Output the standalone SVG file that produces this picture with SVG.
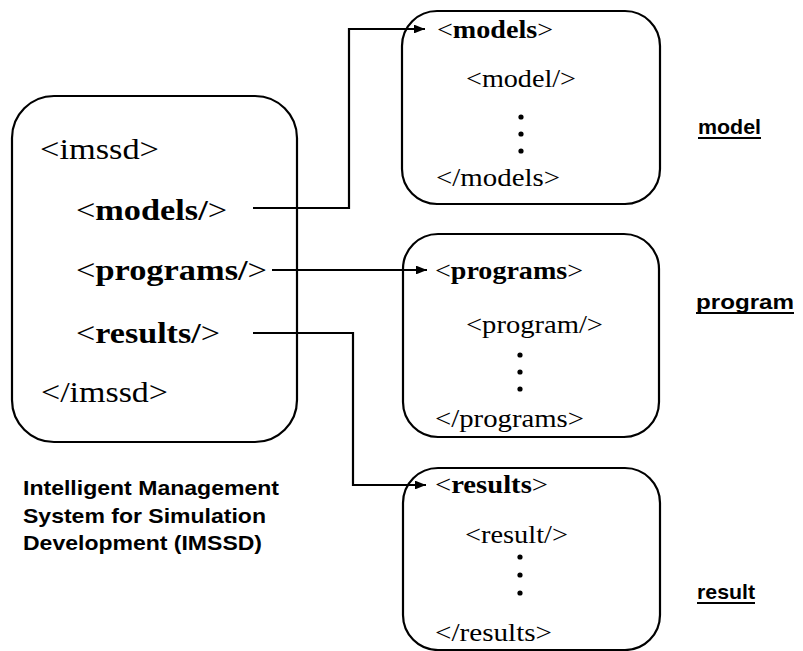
<svg xmlns="http://www.w3.org/2000/svg" width="803" height="651" viewBox="0 0 803 651">
  <style>
    .box { fill: none; stroke: #000; stroke-width: 2.2; }
    .tag { font-family: "Liberation Serif", "Times New Roman", serif; fill: #000; }
    .big { font-size: 29px; }
    .small { font-size: 25px; }
    .b { font-weight: bold; }
    .label { font-family: "Liberation Sans", Arial, sans-serif; font-weight: bold; font-size: 21px; fill: #000; }
    .wire { fill: none; stroke: #000; stroke-width: 2.2; }
  </style>
  <defs>
    <marker id="arrow" viewBox="0 0 10 8" refX="10" refY="4" markerWidth="5" markerHeight="4" markerUnits="strokeWidth" orient="auto">
      <path d="M0,0 L10,4 L0,8 Z" fill="#000"/>
    </marker>
  </defs>
  <rect width="803" height="651" fill="#fff"/>

  <!-- IMSSD root document -->
  <g id="imssd">
    <rect class="box" x="12" y="96" width="285" height="346" rx="42" ry="42"/>
    <text class="tag big" x="40" y="159" textLength="119" lengthAdjust="spacingAndGlyphs">&lt;imssd&gt;</text>
    <text class="tag big" x="76" y="220" textLength="151" lengthAdjust="spacingAndGlyphs">&lt;<tspan class="b">models/</tspan>&gt;</text>
    <text class="tag big" x="76" y="280" textLength="191" lengthAdjust="spacingAndGlyphs">&lt;<tspan class="b">programs/</tspan>&gt;</text>
    <text class="tag big" x="76" y="343" textLength="144" lengthAdjust="spacingAndGlyphs">&lt;<tspan class="b">results/</tspan>&gt;</text>
    <text class="tag big" x="41" y="402" textLength="127" lengthAdjust="spacingAndGlyphs">&lt;/imssd&gt;</text>
  </g>

  <g id="imssd-caption">
    <text class="label" x="23" y="495" textLength="256" lengthAdjust="spacingAndGlyphs">Intelligent Management</text>
    <text class="label" x="23" y="523" textLength="243" lengthAdjust="spacingAndGlyphs">System for Simulation</text>
    <text class="label" x="23" y="550" textLength="239" lengthAdjust="spacingAndGlyphs">Development (IMSSD)</text>
  </g>

  <!-- models document -->
  <g id="models">
    <rect class="box" x="402" y="11" width="258" height="193" rx="35" ry="35"/>
    <text class="tag small" x="437" y="38" textLength="116" lengthAdjust="spacingAndGlyphs">&lt;<tspan class="b">models</tspan>&gt;</text>
    <text class="tag small" x="466" y="87" textLength="110" lengthAdjust="spacingAndGlyphs">&lt;model/&gt;</text>
    <circle cx="521" cy="117" r="2.6"/>
    <circle cx="521" cy="134" r="2.6"/>
    <circle cx="521" cy="151" r="2.6"/>
    <text class="tag small" x="436" y="186" textLength="124" lengthAdjust="spacingAndGlyphs">&lt;/models&gt;</text>
  </g>
  <g id="model-label">
    <text class="label" x="698" y="134" textLength="63" lengthAdjust="spacingAndGlyphs">model</text>
    <rect x="698" y="137" width="63" height="2"/>
  </g>

  <!-- programs document -->
  <g id="programs">
    <rect class="box" x="403" y="234" width="256" height="203" rx="35" ry="35"/>
    <text class="tag small" x="435" y="279" textLength="148" lengthAdjust="spacingAndGlyphs">&lt;<tspan class="b">programs</tspan>&gt;</text>
    <text class="tag small" x="466" y="333" textLength="137" lengthAdjust="spacingAndGlyphs">&lt;program/&gt;</text>
    <circle cx="520" cy="355" r="2.6"/>
    <circle cx="520" cy="372" r="2.6"/>
    <circle cx="520" cy="389" r="2.6"/>
    <text class="tag small" x="435" y="427" textLength="149" lengthAdjust="spacingAndGlyphs">&lt;/programs&gt;</text>
  </g>
  <g id="program-label">
    <text class="label" x="696" y="309" textLength="98" lengthAdjust="spacingAndGlyphs">program</text>
    <rect x="696" y="312" width="98" height="2"/>
  </g>

  <!-- results document -->
  <g id="results">
    <rect class="box" x="403" y="468" width="257" height="182" rx="35" ry="35"/>
    <text class="tag small" x="435" y="493" textLength="113" lengthAdjust="spacingAndGlyphs">&lt;<tspan class="b">results</tspan>&gt;</text>
    <text class="tag small" x="465" y="543" textLength="103" lengthAdjust="spacingAndGlyphs">&lt;result/&gt;</text>
    <circle cx="520" cy="557" r="2.6"/>
    <circle cx="520" cy="575" r="2.6"/>
    <circle cx="520" cy="593" r="2.6"/>
    <text class="tag small" x="435" y="641" textLength="117" lengthAdjust="spacingAndGlyphs">&lt;/results&gt;</text>
  </g>
  <g id="result-label">
    <text class="label" x="697" y="599" textLength="58" lengthAdjust="spacingAndGlyphs">result</text>
    <rect x="697" y="602" width="58" height="2"/>
  </g>

  <!-- references from the root document to each child document -->
  <g id="connectors">
    <path class="wire" d="M253,208 H349 V29 H425" marker-end="url(#arrow)"/>
    <path class="wire" d="M272,270 H427" marker-end="url(#arrow)"/>
    <path class="wire" d="M253,333 H353 V485 H426" marker-end="url(#arrow)"/>
  </g>
</svg>
